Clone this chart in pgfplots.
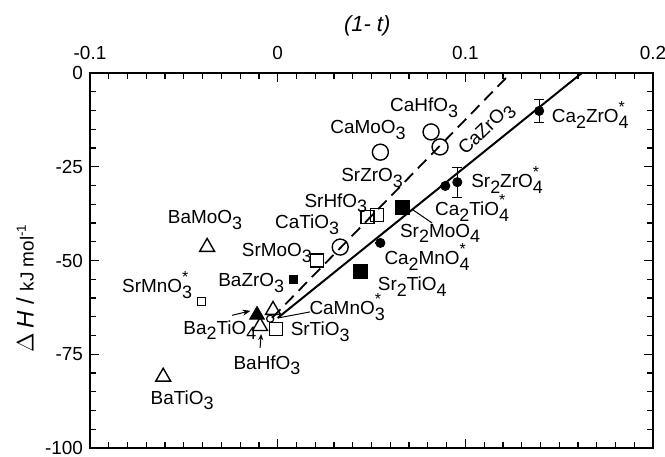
\documentclass[border=0pt]{standalone}
\usepackage{fontspec}
\setmainfont{Liberation Sans}
\usepackage{pgfplots}
\pgfplotsset{compat=1.18}
\usetikzlibrary{arrows.meta}

% chemical sub/superscripts in the text font
\newcommand{\subs}[1]{\raisebox{-0.55ex}{\small #1}}
\newcommand{\subst}[1]{\rlap{\raisebox{1.0ex}{\footnotesize *}}\raisebox{-0.55ex}{\small #1}}

\begin{document}
\begin{tikzpicture}
\begin{axis}[
  scale only axis,
  width=281.5bp, height=187.5bp,
  xmin=-0.1, xmax=0.2,
  ymin=-100, ymax=0,
  xtick={-0.1,0,0.1,0.2},
  ytick={-100,-75,-50,-25,0},
  minor x tick num=9,
  minor y tick num=4,
  xtick pos=both, xticklabel pos=upper,
  ytick pos=both, yticklabel pos=left,
  tick align=inside,
  major tick length=4.5bp, minor tick length=3bp,
  tick style={black, line width=0.6pt},
  axis line style={black, line width=1.1pt},
  /pgf/number format/assume math mode=true,
  xticklabel style={font=\fontsize{9.5}{11}\selectfont, yshift=3bp},
  yticklabel style={font=\fontsize{9.5}{11}\selectfont},
  clip=false,
]

% fitted lines
\addplot[black, line width=1pt] coordinates {(0.0,-65.3) (0.162,0)};
\addplot[black, line width=0.9pt, dash pattern=on 6bp off 3.5bp]
  coordinates {(-0.003,-65.3) (0.1242,0)};

% open circles: CaHfO3, CaZrO3, CaMoO3, CaTiO3
\addplot[only marks, mark=o, mark size=4bp, mark options={line width=0.7pt}]
  coordinates {(0.0817,-15.7) (0.0865,-19.7) (0.0547,-21.1) (0.0333,-46.4)};
% small open circle: CaMnO3*
\addplot[only marks, mark=o, mark size=1.8bp, mark options={line width=0.6pt}]
  coordinates {(-0.004,-65.5)};

% open squares: SrMoO3, SrHfO3, SrZrO3, SrTiO3
\addplot[only marks, mark=square, mark size=3.2bp, mark options={line width=0.7pt}]
  coordinates {(0.021,-50) (0.0478,-38.4) (0.053,-37.9) (-0.0008,-68.3)};
% small open square: SrMnO3*
\addplot[only marks, mark=square, mark size=2bp, mark options={line width=0.6pt}]
  coordinates {(-0.0408,-61)};

% filled squares: Sr2MoO4, Sr2TiO4
\addplot[only marks, mark=square*, mark size=3.5bp, mark options={fill=black}]
  coordinates {(0.0663,-35.7) (0.0439,-53)};
% small filled square: BaZrO3
\addplot[only marks, mark=square*, mark size=2bp, mark options={fill=black}]
  coordinates {(0.0082,-54.9)};

% open triangles: BaMoO3, BaTiO3, BaHfO3, (near origin)
\addplot[only marks, mark=triangle, mark size=4.3bp, mark options={line width=0.7pt}]
  coordinates {(-0.0376,-46.4) (-0.061,-81) (-0.0094,-67.5) (-0.0025,-63.2)};
% filled triangle: Ba2TiO4
\addplot[only marks, mark=triangle*, mark size=4.3bp, mark options={fill=black}]
  coordinates {(-0.011,-64.5)};

% filled circles: Ca2ZrO4*, Sr2ZrO4*, Ca2TiO4*, Ca2MnO4*
\addplot[only marks, mark=*, mark size=2.3bp,
         error bars/.cd, y dir=both, y explicit, error mark=-,
         error bar style={line width=0.6pt},
         error mark options={rotate=90, mark size=2.5bp, line width=0.6pt}]
  coordinates {(0.1393,-10.1) +- (0,3) (0.0957,-29.1) +- (0,4)
               (0.0893,-30.1) +- (0,0) (0.0547,-45.3) +- (0,0)};

% leader lines and arrows
\draw[line width=0.5pt] (axis cs:0.0721,-36.5) -- (axis cs:0.0823,-40);
\draw[line width=0.5pt] (axis cs:0.0172,-63.7) -- (axis cs:0.0002,-65.3);
\draw[line width=0.5pt, -{Stealth[length=4bp,width=3bp]}]
  (axis cs:-0.0243,-64.6) -- (axis cs:-0.0145,-63.4);
\draw[line width=0.5pt, -{Stealth[length=3bp,width=2.5bp]}]
  (axis cs:-0.0094,-73.3) -- (axis cs:-0.0088,-69.6);

% labels
\begin{scope}[every node/.style={font=\fontsize{9.5}{10}\selectfont, inner sep=0pt}]
\node at (axis cs:0.078,-9.3) {CaHfO\subs{3}};
\node[rotate=44] at (axis cs:0.1115,-15.2) {CaZrO\subs{3}};
\node at (axis cs:0.0481,-15.2) {CaMoO\subs{3}};
\node at (axis cs:0.0503,-28) {SrZrO\subs{3}};
\node at (axis cs:0.031,-34.7) {SrHfO\subs{3}};
\node at (axis cs:0.0157,-40.5) {CaTiO\subs{3}};
\node at (axis cs:-0.0004,-48) {SrMoO\subs{3}};
\node at (axis cs:-0.0387,-39.2) {BaMoO\subs{3}};
\node at (axis cs:-0.0642,-56.5) {SrMnO\subst{3}};
\node at (axis cs:-0.0141,-56) {BaZrO\subs{3}};
\node at (axis cs:-0.0308,-68.5) {Ba\subs{2}TiO\subs{4}};
\node at (axis cs:-0.0057,-77.9) {BaHfO\subs{3}};
\node at (axis cs:0.0226,-69) {SrTiO\subs{3}};
\node at (axis cs:0.037,-62.4) {CaMnO\subst{3}};
\node at (axis cs:0.0717,-57) {Sr\subs{2}TiO\subs{4}};
\node at (axis cs:0.0865,-42.7) {Sr\subs{2}MoO\subs{4}};
\node at (axis cs:0.0796,-49) {Ca\subs{2}MnO\subst{4}};
\node at (axis cs:0.1036,-36) {Ca\subs{2}TiO\subst{4}};
\node at (axis cs:0.1222,-28.5) {Sr\subs{2}ZrO\subst{4}};
\node at (axis cs:0.1665,-11.2) {Ca\subs{2}ZrO\subst{4}};
\node at (axis cs:-0.0509,-87.2) {BaTiO\subs{3}};
\end{scope}

% axis titles
\node[font=\fontsize{11}{12}\selectfont\itshape] at (axis cs:0.0477,12.5) {(1- t)};
\node[rotate=90, font=\fontsize{12}{13}\selectfont] at (axis cs:-0.1346,-57.3)
  {$\Delta$\,\textit{H} / {\fontsize{9.5}{10}\selectfont kJ mol\textsuperscript{-1}}};

\coordinate (bbsw) at (axis cs:-0.14795,-102.13);
\coordinate (bbne) at (axis cs:0.20634,19.47);
\end{axis}
\pgfresetboundingbox
\path[use as bounding box] (bbsw) rectangle (bbne);
\end{tikzpicture}
\end{document}
